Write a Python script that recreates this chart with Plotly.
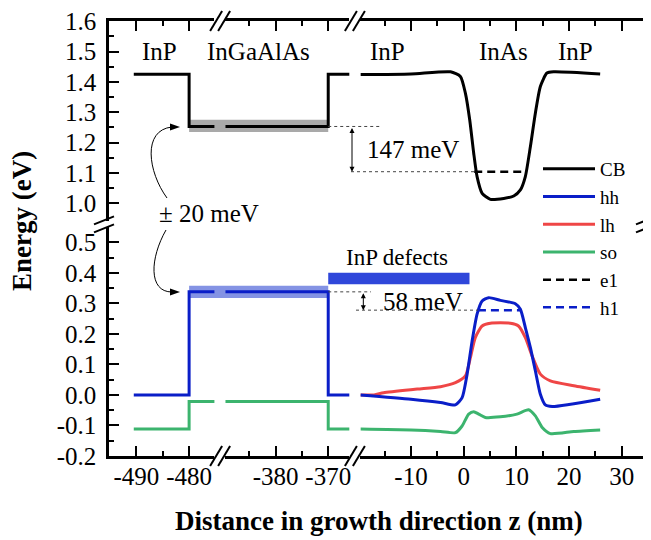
import plotly.graph_objects as go

# ---------------- data ----------------
# broken x axis: three pieces (nm)
x_left_range = [-495.2, -475.2]
x_mid_range = [-389.5, -366.0]
x_right_range = [-19.6, 34.6]
# broken y axis: two pieces (eV)
y_low_range = [-0.2005, 0.55]
y_up_range = [0.94, 1.6005]

# InP / InGaAlAs / InP barrier (left and middle x pieces)
z_left = [-490.5, -480.0, -480.0, -470.0]
cb_left = [1.425, 1.425, 1.253, 1.253]
hh_left = [0.0, 0.0, 0.338, 0.338]
so_left = [-0.112, -0.112, -0.022, -0.022]

z_mid = [-395.0, -370.0, -370.0, -364.0]
cb_mid = [1.253, 1.253, 1.425, 1.425]
hh_mid = [0.338, 0.338, 0.0, 0.0]
so_mid = [-0.022, -0.022, -0.112, -0.112]

# InP / InAs / InP quantum dot region (right x piece)
cb_z = [-19.6, -10.0, -2.5, -0.63, 0.32, 1.14, 1.9, 2.54, 3.5, 5.07, 7.6, 9.5,
        10.76, 11.7, 12.66, 13.6, 14.55, 15.8, 17.1, 25.9]
cb_e = [1.424, 1.426, 1.433, 1.418, 1.363, 1.275, 1.165, 1.088, 1.033, 1.013, 1.016, 1.024,
        1.044, 1.088, 1.187, 1.297, 1.385, 1.429, 1.433, 1.426]

hh_z = [-19.6, -10.0, -4.4, -1.57, -0.3, 0.65, 1.6, 2.54, 3.5, 4.74, 6.96, 9.8,
        10.76, 11.7, 12.66, 13.6, 14.55, 15.5, 16.8, 25.9]
hh_e = [0.0, -0.014, -0.025, -0.033, -0.009, 0.068, 0.177, 0.265, 0.308, 0.319, 0.310, 0.299,
        0.281, 0.221, 0.155, 0.079, 0.002, -0.033, -0.038, -0.014]

lh_z = [-19.6, -17.0, -15.2, -8.8, -4.4, -1.57, 0.32, 1.27, 2.2, 3.5, 5.07, 8.86,
        10.4, 11.7, 12.98, 14.55, 16.45, 20.9, 25.9]
lh_e = [0.0, 0.0, 0.007, 0.019, 0.027, 0.040, 0.062, 0.122, 0.188, 0.226, 0.235, 0.235,
        0.226, 0.188, 0.128, 0.068, 0.046, 0.030, 0.015]

so_z = [-19.6, -10.0, -4.4, -1.57, -0.3, 0.95, 1.9, 2.85, 4.1, 6.96, 10.1, 12.3,
        13.6, 14.9, 16.45, 20.9, 25.9]
so_e = [-0.112, -0.115, -0.120, -0.124, -0.102, -0.063, -0.055, -0.063, -0.074, -0.072, -0.063, -0.049,
        -0.069, -0.107, -0.127, -0.120, -0.115]

e1_z = [2.0, 11.6]
e1_e = [1.104, 1.104]
h1_z = [2.7, 10.8]
h1_e = [0.278, 0.278]

well_z = [-480.0, -370.0]          # InGaAlAs layer
cb_band = [1.235, 1.275]           # +-20 meV
hh_band = [0.318, 0.358]
defect_z = [-370.0, 1.1]           # InP defects band (middle -> right piece)
defect_e = [0.363, 0.401]

# ticks
xl_ticks = [-490, -480]; xl_text = ["-490", "-480"]; xl_minor = [-485]
xm_ticks = [-380, -370]; xm_text = ["-380", "-370"]; xm_minor = [-385, -375]
xr_ticks = [-10, 0, 10, 20, 30]; xr_text = ["-10", "0", "10", "20", "30"]; xr_minor = [-15, -5, 5, 15, 25]
yl_ticks = [-0.2, -0.1, 0.0, 0.1, 0.2, 0.3, 0.4, 0.5]
yl_text = ["-0.2", "-0.1", "0.0", "0.1", "0.2", "0.3", "0.4", "0.5"]
yl_minor = [-0.15, -0.05, 0.05, 0.15, 0.25, 0.35, 0.45]
yu_ticks = [1.0, 1.1, 1.2, 1.3, 1.4, 1.5, 1.6]
yu_text = ["1.0", "1.1", "1.2", "1.3", "1.4", "1.5", "1.6"]
yu_minor = [1.05, 1.15, 1.25, 1.35, 1.45, 1.55]

# ---------------- layout geometry ----------------
W, H = 651, 540
OFF = 8                      # default page body margin of the html page
PL, PR, PT, PB = 109, 646, 21, 456   # plot area in page pixels
PW, PH = PR - PL, PB - PT
ML, MT = PL - OFF, PT - OFF
MR, MB = W - (PR - OFF), H - (PB - OFF)

dom_left = [0.0, 0.1963]
dom_mid = [0.2169, 0.4475]
dom_right = [0.4682, 1.0]
dom_low = [0.0, 0.5259]
dom_up = [0.5391, 1.0]

XAX = {"L": (dom_left, x_left_range), "M": (dom_mid, x_mid_range), "R": (dom_right, x_right_range)}
YAX = {"lo": (dom_low, y_low_range), "up": (dom_up, y_up_range)}


def xp(ax, v):
    d, r = XAX[ax]
    return d[0] + (v - r[0]) / (r[1] - r[0]) * (d[1] - d[0])


def yp(ax, v):
    d, r = YAX[ax]
    return d[0] + (v - r[0]) / (r[1] - r[0]) * (d[1] - d[0])


def pxx(px):
    return (px - PL) / PW


def pxy(py):
    return (PB - py) / PH


SERIF = "Liberation Serif"
BLUE = "#0A1EC8"
RED = "#EF4646"
GREEN = "#3CB46E"

fig = go.Figure()

up_axes = {"L": "x4", "M": "x5", "R": "x6"}
lo_axes = {"L": "x", "M": "x2", "R": "x3"}


def add(x, y, xa, ya, name, color, show, rank, dash="solid", width=3, smooth=False):
    fig.add_trace(go.Scatter(
        x=x, y=y, xaxis=xa, yaxis=ya, mode="lines", name=name,
        legendgroup=name, showlegend=show, legendrank=rank,
        line=dict(color=color, width=width, dash=dash,
                  shape="spline" if smooth else "linear", smoothing=0.6),
        hoverinfo="skip"))


# CB
add(z_left, cb_left, up_axes["L"], "y2", "CB", "black", True, 1)
add(z_mid, cb_mid, up_axes["M"], "y2", "CB", "black", False, 1)
add(cb_z, cb_e, up_axes["R"], "y2", "CB", "black", False, 1, smooth=True)
# lh (below hh)
add(lh_z, lh_e, lo_axes["R"], "y", "lh", RED, True, 3, smooth=True)
# hh
add(z_left, hh_left, lo_axes["L"], "y", "hh", BLUE, True, 2)
add(z_mid, hh_mid, lo_axes["M"], "y", "hh", BLUE, False, 2)
add(hh_z, hh_e, lo_axes["R"], "y", "hh", BLUE, False, 2, smooth=True)
# so
add(z_left, so_left, lo_axes["L"], "y", "so", GREEN, True, 4)
add(z_mid, so_mid, lo_axes["M"], "y", "so", GREEN, False, 4)
add(so_z, so_e, lo_axes["R"], "y", "so", GREEN, False, 4, smooth=True)
# confined levels
add(e1_z, e1_e, up_axes["R"], "y2", "e1", "black", True, 5, dash="8px,5px", width=2.5)
add(h1_z, h1_e, lo_axes["R"], "y", "h1", BLUE, True, 6, dash="8px,5px", width=2.5)

# ---------------- axes ----------------
tickfont = dict(family=SERIF, size=25, color="black")
base = dict(showline=True, linecolor="black", linewidth=2.5, ticks="inside", ticklen=10,
            tickwidth=2, tickcolor="black", showgrid=False, zeroline=False,
            tickfont=tickfont, tickmode="array", fixedrange=True, automargin=False,
            ticklabeloverflow="allow")


def minor(vals):
    return dict(tickvals=vals, ticks="inside", ticklen=5, tickwidth=2, tickcolor="black")


xspecs = {"L": (x_left_range, dom_left, xl_ticks, xl_text, xl_minor),
          "M": (x_mid_range, dom_mid, xm_ticks, xm_text, xm_minor),
          "R": (x_right_range, dom_right, xr_ticks, xr_text, xr_minor)}
lay = {}
for key, name in lo_axes.items():
    rng, dom, tv, tt, mv = xspecs[key]
    lay[name.replace("x", "xaxis")] = dict(base, range=rng, domain=dom, anchor="y", tickvals=tv,
                                            ticktext=tt, minor=minor(mv), ticklabelstandoff=-4)
for key, name in up_axes.items():
    rng, dom, tv, tt, mv = xspecs[key]
    lay[name.replace("x", "xaxis")] = dict(base, range=rng, domain=dom, anchor="y2", side="top",
                                            tickvals=tv, showticklabels=False, minor=minor(mv))
lay["yaxis"] = dict(base, range=y_low_range, domain=dom_low, anchor="x", tickvals=yl_ticks,
                    ticktext=yl_text, minor=minor(yl_minor), ticklabelstandoff=5)
lay["yaxis2"] = dict(base, range=y_up_range, domain=dom_up, anchor="x4", tickvals=yu_ticks,
                     ticktext=yu_text, minor=minor(yu_minor), ticklabelstandoff=5)
lay["yaxis3"] = dict(base, range=y_low_range, domain=dom_low, anchor="x3", side="right",
                     tickvals=yl_ticks, showticklabels=False, minor=minor(yl_minor))
lay["yaxis4"] = dict(base, range=y_up_range, domain=dom_up, anchor="x6", side="right",
                     tickvals=yu_ticks, showticklabels=False, minor=minor(yu_minor))
fig.update_layout(**lay)

# ---------------- shapes ----------------
shapes = []
shapes.append(dict(type="rect", xref="paper", yref="paper", layer="below", line=dict(width=0),
                   x0=xp("L", well_z[0]), x1=xp("M", well_z[1]),
                   y0=yp("up", cb_band[0]), y1=yp("up", cb_band[1]), fillcolor="#a9a9a9"))
shapes.append(dict(type="rect", xref="paper", yref="paper", layer="below", line=dict(width=0),
                   x0=xp("L", well_z[0]), x1=xp("M", well_z[1]),
                   y0=yp("lo", hh_band[0]), y1=yp("lo", hh_band[1]), fillcolor="#8493e4"))
shapes.append(dict(type="rect", xref="paper", yref="paper", layer="below", line=dict(width=0),
                   x0=xp("M", defect_z[0]), x1=xp("R", defect_z[1]),
                   y0=yp("lo", defect_e[0]), y1=yp("lo", defect_e[1]), fillcolor="#2f47da"))
dot = dict(color="#444444", width=1, dash="dot")
shapes += [
    dict(type="line", xref="paper", yref="paper", x0=xp("M", -370), x1=pxx(380),
         y0=yp("up", cb_left[2]), y1=yp("up", cb_left[2]), line=dot),
    dict(type="line", xref="paper", yref="paper", x0=pxx(351), x1=xp("R", e1_z[0]),
         y0=yp("up", e1_e[0]), y1=yp("up", e1_e[0]), line=dot),
    dict(type="line", xref="paper", yref="paper", x0=xp("M", -370), x1=pxx(371),
         y0=yp("lo", hh_left[2]), y1=yp("lo", hh_left[2]), line=dot),
    dict(type="line", xref="paper", yref="paper", x0=pxx(356), x1=xp("R", h1_z[0]),
         y0=yp("lo", h1_e[0]), y1=yp("lo", h1_e[0]), line=dot),
]
brk = dict(color="black", width=2)
for xc in [220.1, 354.9]:
    for yc in [PT, PB]:
        for d in [-4, 4]:
            shapes.append(dict(type="line", xref="paper", yref="paper",
                               x0=pxx(xc + d - 6), y0=pxy(yc + 10), x1=pxx(xc + d + 6), y1=pxy(yc - 10), line=brk))
for xc in [104, 646]:
    for d in [-4, 4]:
        yc = 224.4 + d
        shapes.append(dict(type="line", xref="paper", yref="paper",
                           x0=pxx(xc - 10), y0=pxy(yc + 4), x1=pxx(xc + 10), y1=pxy(yc - 4), line=brk))


def P(px, py):
    return f"{pxx(px):.5f},{pxy(py):.5f}"


shapes.append(dict(type="path", xref="paper", yref="paper", line=dict(color="black", width=1),
                   path=f"M{P(167, 198)} C{P(148, 172)} {P(142, 130)} {P(172, 127)}"))
shapes.append(dict(type="path", xref="paper", yref="paper", line=dict(color="black", width=0),
                   fillcolor="black", path=f"M{P(180, 127)} L{P(170, 123.5)} L{P(170, 130.5)} Z"))
shapes.append(dict(type="path", xref="paper", yref="paper", line=dict(color="black", width=1),
                   path=f"M{P(166, 230)} C{P(150, 258)} {P(148, 292)} {P(172, 292)}"))
shapes.append(dict(type="path", xref="paper", yref="paper", line=dict(color="black", width=0),
                   fillcolor="black", path=f"M{P(180, 292)} L{P(170, 288.5)} L{P(170, 295.5)} Z"))
fig.update_layout(shapes=shapes)

# ---------------- annotations ----------------
f25 = dict(family=SERIF, size=25, color="black")
C = dict(xanchor="center", yanchor="middle", showarrow=False)
ann = [
    dict(C, text="InP", x=-485.6, y=1.5, xref="x4", yref="y2", font=f25),
    dict(C, text="InGaAlAs", x=-383.2, y=1.5, xref="x5", yref="y2", font=f25),
    dict(C, text="InP", x=-14.4, y=1.5, xref="x6", yref="y2", font=f25),
    dict(C, text="InAs", x=7.5, y=1.5, xref="x6", yref="y2", font=f25),
    dict(C, text="InP", x=21.2, y=1.5, xref="x6", yref="y2", font=f25),
    dict(C, text="147 meV", x=-9.6, y=1.176, xref="x6", yref="y2", font=f25),
    dict(C, text="± 20 meV", x=pxx(208.5), y=pxy(213), xref="paper", yref="paper", font=f25),
    dict(C, text="InP defects", x=-12.7, y=0.452, xref="x3", yref="y",
         font=dict(family=SERIF, size=23, color="black")),
    dict(C, text="58 meV", x=-7.7, y=0.306, xref="x3", yref="y", font=f25),
    dict(text="", x=pxx(352), y=yp("up", e1_e[0]), xref="paper", yref="paper", showarrow=True,
         ax=0, ay=-(cb_left[2] - e1_e[0]) * 303, axref="pixel", ayref="pixel",
         arrowhead=2, startarrowhead=2, arrowside="end+start", arrowsize=1, arrowwidth=1, arrowcolor="black"),
    dict(text="", x=-19.05, y=h1_e[0], xref="x3", yref="y", showarrow=True,
         ax=0, ay=-(hh_left[2] - h1_e[0]) * 305, axref="pixel", ayref="pixel",
         arrowhead=2, startarrowhead=2, arrowside="end+start", arrowsize=1, arrowwidth=1, arrowcolor="black"),
    dict(C, text="<b>Energy (eV)</b>", x=pxx(22), y=pxy(221), xref="paper", yref="paper",
         textangle=-90, font=dict(family=SERIF, size=27, color="black")),
    dict(C, text="<b>Distance in growth direction z (nm)</b>", x=pxx(379), y=pxy(521), xref="paper",
         yref="paper", font=dict(family=SERIF, size=27, color="black")),
]
fig.update_layout(annotations=ann)

fig.update_layout(
    width=W, height=H, margin=dict(l=ML, r=MR, t=MT, b=MB, autoexpand=False),
    paper_bgcolor="white", plot_bgcolor="rgba(0,0,0,0)",
    font=dict(family=SERIF, color="black"),
    legend=dict(x=pxx(538), y=pxy(150), xanchor="left", yanchor="top",
                font=dict(family=SERIF, size=19, color="black"), bgcolor="rgba(0,0,0,0)",
                itemwidth=52, tracegroupgap=0, traceorder="normal"),
    showlegend=True,
)

fig.write_html("out.html")
